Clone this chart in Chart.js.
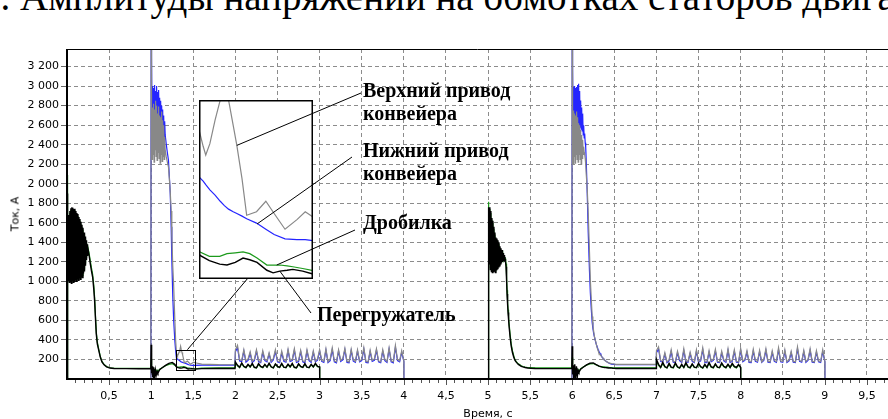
<!DOCTYPE html>
<html>
<head>
<meta charset="utf-8">
<script src="https://cdn.jsdelivr.net/npm/chart.js@4.4.1/dist/chart.umd.min.js"></script>
<style>
html, body { margin: 0; padding: 0; background: #fff; }
#wrap { position: relative; width: 888px; height: 419px; overflow: hidden; background: #fff; }
#main { position: absolute; left: 0; top: 0; }
#insetBox { position: absolute; left: 199px; top: 100px; width: 114px; height: 179px; background: #fff; }
#marks { position: absolute; left: 0; top: 0; pointer-events: none; }
.t { position: absolute; white-space: nowrap; color: #000; }
.title { left: -19px; top: -23px; font: 39px "Liberation Serif"; line-height: 39px; }
.lbl { font: bold 20px "Liberation Serif"; line-height: 23px; }
.ax { font: 11px "DejaVu Sans"; }
</style>
</head>
<body>
<div id="wrap">
  <div class="t title">7. Амплитуды напряжений на обмотках статоров двигателей</div>
  <canvas id="main" width="888" height="419"></canvas>
  <div id="insetBox"><canvas id="inset" width="114" height="179"></canvas></div>
  <canvas id="marks" width="888" height="419"></canvas>
  <div class="t lbl" style="left:363px;top:79px">Верхний привод<br>конвейера</div>
  <div class="t lbl" style="left:363px;top:139px">Нижний привод<br>конвейера</div>
  <div class="t lbl" style="left:363px;top:211px">Дробилка</div>
  <div class="t lbl" style="left:317px;top:303px">Перегружатель</div>
  <div class="t ax" style="left:15px;top:214px;transform:translate(-50%,-50%) rotate(-90deg)">Ток, А</div>
  <div class="t ax" style="left:488px;top:413px;transform:translate(-50%,-50%)">Время, с</div>
</div>
<script>
// two identical runs, the second one starts 5 s later
const runStart = [0, 5];

// tick labels
const timeTicks = [0.5, 1, 1.5, 2, 2.5, 3, 3.5, 4, 4.5, 5, 5.5, 6, 6.5, 7, 7.5, 8, 8.5, 9, 9.5];
const ampTicks = [200, 400, 600, 800, 1000, 1200, 1400, 1600, 1800, 2000, 2200, 2400, 2600, 2800, 3000, 3200];

// crusher (green) and loader (black): time from run start, s
const feedTime = [0, 0.004,
  0.010, 0.016, 0.022, 0.028, 0.034, 0.040, 0.046, 0.052, 0.058, 0.064,
  0.070, 0.076, 0.082, 0.088, 0.094, 0.100, 0.106, 0.112, 0.118, 0.124,
  0.130, 0.136, 0.142, 0.148, 0.154, 0.160, 0.166, 0.172, 0.178, 0.184,
  0.190, 0.196, 0.202, 0.208, 0.214, 0.220, 0.226, 0.232, 0.238, 0.244, 0.250,
  0.262, 0.275, 0.290, 0.305, 0.318, 0.328, 0.338, 0.348, 0.360, 0.378,
  0.395, 0.415, 0.440, 0.470, 0.510, 0.560, 0.700, 0.850, 0.995,
  1.000, 1.005, 1.010, 1.015, 1.020, 1.025, 1.030, 1.035, 1.040, 1.045,
  1.050, 1.060, 1.070, 1.080, 1.100, 1.130, 1.170, 1.210, 1.250, 1.280,
  1.302, 1.320, 1.340, 1.354, 1.370, 1.385, 1.398, 1.412, 1.431, 1.443,
  1.456, 1.470, 1.481, 1.500, 1.518,
  1.600, 1.800, 1.995,
  2.000, 2.025, 2.050, 2.075, 2.100, 2.125, 2.150, 2.175, 2.200, 2.225,
  2.250, 2.275, 2.300, 2.325, 2.350, 2.375, 2.400, 2.425, 2.450, 2.475,
  2.500, 2.525, 2.550, 2.575, 2.600, 2.625, 2.650, 2.675, 2.700, 2.725,
  2.750, 2.775, 2.800, 2.825, 2.850, 2.875, 2.900, 2.925, 2.950, 2.975, 3.000,
  3.001, 4.995];

// Перегружатель, A
const loaderRun1 = [0, 1900,
  1620, 1010, 1680, 990, 1720, 1000, 1750, 980, 1760, 1010,
  1755, 990, 1740, 1000, 1745, 1020, 1720, 1000, 1700, 1030,
  1690, 1010, 1660, 1040, 1640, 1020, 1610, 1050, 1580, 1040,
  1550, 1080, 1500, 1100, 1460, 1160, 1420, 1220, 1380, 1260, 1330,
  1270, 1190, 1110, 1040, 920, 800, 620, 460, 360, 290,
  225, 175, 145, 125, 112, 108, 106, 105, 105,
  350, 60, 130, 20, 110, 15, 120, 30, 100, 10,
  90, 40, 80, 60, 95, 115, 140, 160, 170, 150,
  122, 116, 112, 111, 114, 119, 117, 114, 105, 102,
  104, 105, 106, 104, 101,
  106, 107, 107,
  175, 140, 120, 165, 130, 118, 150, 125, 160, 120,
  115, 158, 128, 118, 150, 122, 162, 125, 115, 155,
  130, 120, 160, 122, 118, 152, 125, 160, 120, 115,
  155, 128, 120, 158, 122, 118, 150, 125, 160, 130, 125,
  0, 0];
const loaderRun2 = [0, 1760,
  1700, 1180, 1760, 1120, 1720, 1100, 1650, 1090, 1620, 1100,
  1560, 1110, 1500, 1090, 1450, 1120, 1440, 1130, 1420, 1150,
  1400, 1160, 1360, 1180, 1340, 1190, 1320, 1200, 1290, 1210,
  1270, 1220, 1230, 1200, 1150, 1020, 870, 770, 680, 610, 540,
  430, 340, 271, 225, 195, 180, 170, 160, 150, 140,
  130, 124, 118, 113, 110, 108, 106, 106, 106,
  336, 50, 140, 10, 120, 30, 150, 5, 110, 40,
  130, 20, 90, 70, 100, 120, 145, 162, 165, 150,
  140, 132, 126, 122, 119, 117, 116, 115, 113, 112,
  112, 111, 110, 109, 108,
  107, 107, 107,
  200, 150, 120, 170, 128, 115, 160, 122, 118, 165,
  125, 115, 150, 120, 168, 125, 116, 155, 122, 118,
  162, 128, 115, 150, 120, 170, 126, 116, 155, 122,
  118, 165, 130, 118, 152, 120, 160, 128, 118, 150, 120,
  0, 0];

// Дробилка, A
const crusherRun1 = [0, 2090,
  1600, 1030, 1660, 1010, 1700, 1020, 1730, 1000, 1740, 1030,
  1735, 1010, 1720, 1020, 1725, 1040, 1700, 1020, 1680, 1050,
  1670, 1030, 1640, 1060, 1620, 1040, 1590, 1070, 1560, 1060,
  1530, 1100, 1480, 1120, 1440, 1180, 1400, 1240, 1370, 1280, 1340,
  1290, 1220, 1140, 1070, 960, 840, 650, 480, 380, 300,
  235, 180, 150, 128, 115, 110, 108, 108, 108,
  200, 80, 120, 50, 110, 60, 105, 55, 100, 50,
  95, 70, 90, 80, 100, 115, 135, 150, 158, 140,
  126, 121, 121, 124, 125, 126, 124, 119, 111, 111,
  111, 110, 109, 107, 105,
  112, 114, 114,
  165, 135, 118, 158, 125, 115, 145, 122, 152, 118,
  112, 150, 125, 115, 146, 120, 155, 122, 112, 148,
  126, 118, 152, 120, 115, 146, 122, 152, 118, 112,
  150, 125, 118, 150, 120, 115, 146, 122, 152, 126, 122,
  0, 0];
const crusherRun2 = [0, 1815,
  1680, 1200, 1740, 1140, 1700, 1120, 1630, 1110, 1600, 1120,
  1540, 1130, 1480, 1110, 1430, 1140, 1420, 1150, 1400, 1170,
  1380, 1180, 1340, 1200, 1320, 1210, 1300, 1220, 1270, 1230,
  1250, 1240, 1240, 1220, 1180, 1060, 910, 800, 710, 640, 570,
  460, 360, 290, 240, 205, 188, 176, 165, 155, 145,
  135, 128, 122, 118, 116, 114, 113, 113, 113,
  220, 70, 130, 40, 115, 50, 125, 35, 105, 55,
  115, 45, 95, 80, 105, 122, 142, 155, 158, 146,
  138, 130, 127, 126, 125, 124, 123, 122, 120, 118,
  117, 116, 115, 114, 113,
  114, 114, 114,
  185, 140, 115, 160, 122, 112, 150, 118, 113, 155,
  120, 110, 142, 116, 158, 120, 112, 147, 118, 114,
  152, 122, 110, 142, 116, 160, 120, 112, 146, 118,
  114, 155, 124, 113, 145, 116, 150, 122, 113, 142, 116,
  0, 0];

// conveyor drives (grey upper, blue lower): time from run start, s
const convTime = [0, 0.995,
  1.000, 1.004,
  1.010, 1.016, 1.022, 1.028, 1.034, 1.040, 1.046, 1.052, 1.058, 1.064,
  1.070, 1.076, 1.082, 1.088, 1.094, 1.100, 1.106, 1.112, 1.118, 1.124,
  1.130, 1.136, 1.142, 1.148, 1.154, 1.160,
  1.166, 1.178, 1.190, 1.205, 1.215, 1.226, 1.237, 1.245, 1.256, 1.267, 1.280, 1.290,
  1.300, 1.308, 1.313, 1.321, 1.331, 1.341, 1.349, 1.357, 1.366, 1.373,
  1.383, 1.392, 1.411, 1.429, 1.445, 1.466, 1.489, 1.505, 1.520,
  1.600, 1.800, 1.995,
  2.000, 2.025, 2.050, 2.075, 2.100, 2.125, 2.150, 2.175, 2.200, 2.225,
  2.250, 2.275, 2.300, 2.325, 2.350, 2.375, 2.400, 2.425, 2.450, 2.475,
  2.500, 2.525, 2.550, 2.575, 2.600, 2.625, 2.650, 2.675, 2.700, 2.725,
  2.750, 2.775, 2.800, 2.825, 2.850, 2.875, 2.900, 2.925, 2.950, 2.975,
  3.000, 3.025, 3.050, 3.075, 3.100, 3.125, 3.150, 3.175, 3.200, 3.225,
  3.250, 3.275, 3.300, 3.325, 3.350, 3.375, 3.400, 3.425, 3.450, 3.475,
  3.500, 3.525, 3.550, 3.575, 3.600, 3.625, 3.650, 3.675, 3.700, 3.725,
  3.750, 3.775, 3.800, 3.825, 3.850, 3.875, 3.900, 3.925, 3.950, 3.975, 4.000,
  4.001, 4.995];

// Верхний привод конвейера, A
const upperRun1 = [0, 0,
  4000, 2600,
  2250, 2780, 2300, 2820, 2220, 2760, 2350, 2850, 2280, 2800,
  2240, 2720, 2320, 2790, 2260, 2700, 2210, 2680, 2300, 2740,
  2230, 2650, 2280, 2600, 2250, 2480,
  2350, 2280, 2230, 2170, 2060, 1920, 1720, 1460, 1160, 950, 620, 400,
  266, 247, 237, 250, 277, 300, 335, 300, 271, 248,
  210, 168, 172, 184, 170, 152, 163, 172, 166,
  152, 147, 146,
  300, 345, 200, 190, 300, 185, 205, 280, 180, 200,
  300, 190, 175, 290, 200, 185, 270, 180, 210, 300,
  185, 175, 285, 195, 180, 305, 190, 200, 310, 180,
  190, 295, 185, 175, 300, 200, 180, 290, 185, 205,
  300, 190, 180, 310, 175, 200, 320, 185, 175, 300,
  190, 210, 315, 180, 175, 305, 195, 180, 300, 185,
  200, 320, 180, 175, 295, 190, 205, 310, 185, 175,
  300, 200, 180, 320, 185, 175, 345, 200, 185, 290, 190,
  0, 0];
const upperRun2 = [0, 0,
  4000, 2550,
  2200, 2750, 2280, 2720, 2210, 2700, 2300, 2740, 2250, 2680,
  2220, 2620, 2300, 2600, 2250, 2550, 2200, 2500, 2260, 2450,
  2300, 2380, 2320, 2300, 2260, 2200,
  2100, 1950, 1700, 1300, 1020, 820, 640, 550, 480, 420, 380, 340,
  310, 290, 275, 262, 250, 240, 230, 222, 215, 205,
  195, 186, 175, 168, 162, 158, 155, 152, 150,
  150, 149, 149,
  290, 330, 190, 180, 270, 175, 195, 300, 180, 175,
  285, 200, 178, 310, 185, 180, 275, 190, 175, 300,
  180, 195, 320, 178, 175, 290, 185, 200, 305, 180,
  175, 285, 195, 180, 310, 176, 190, 300, 180, 175,
  315, 185, 200, 290, 178, 175, 305, 190, 180, 295,
  176, 200, 310, 180, 175, 290, 190, 178, 320, 185,
  180, 300, 176, 195, 285, 180, 175, 330, 190, 180,
  295, 178, 200, 310, 180, 175, 290, 185, 178, 300, 185,
  0, 0];

// Нижний привод конвейера, A
const lowerRun1 = [0, 0,
  4000, 3300,
  2600, 3000, 2550, 2980, 2620, 3010, 2580, 2950, 2650, 3000,
  2600, 2940, 2680, 2960, 2620, 2880, 2650, 2850, 2600, 2800,
  2550, 2760, 2500, 2700, 2480, 2640,
  2500, 2411, 2330, 2241, 2080, 1904, 1560, 1220, 850, 600, 400, 290,
  212, 207, 203, 197, 191, 184, 179, 175, 172, 170,
  167, 164, 159, 152, 146, 141, 140, 140, 139,
  142, 143, 143,
  280, 320, 185, 180, 285, 172, 190, 262, 170, 188,
  285, 178, 168, 272, 188, 176, 255, 172, 196, 282,
  176, 168, 268, 182, 172, 290, 180, 188, 295, 170,
  178, 280, 176, 166, 285, 188, 170, 275, 176, 192,
  285, 180, 170, 295, 168, 188, 300, 176, 166, 285,
  180, 195, 300, 170, 166, 290, 184, 172, 285, 176,
  188, 305, 170, 166, 280, 180, 192, 295, 176, 168,
  285, 188, 170, 305, 176, 166, 325, 188, 176, 275, 180,
  0, 0];
const lowerRun2 = [0, 0,
  4000, 3200,
  2700, 2990, 2650, 3000, 2620, 2980, 2600, 2990, 2640, 3010,
  2620, 3023, 2600, 2950, 2580, 2853, 2560, 2780, 2540, 2718,
  2500, 2600, 2470, 2513, 2420, 2377,
  2241, 1904, 1500, 1100, 883, 720, 580, 520, 460, 420, 373, 345,
  320, 300, 290, 275, 260, 245, 232, 222, 212, 205,
  195, 188, 176, 166, 158, 152, 150, 149, 148,
  147, 147, 147,
  270, 305, 180, 172, 255, 168, 185, 280, 172, 168,
  268, 188, 170, 290, 176, 172, 260, 180, 168, 282,
  172, 185, 300, 170, 168, 272, 176, 190, 285, 172,
  168, 268, 185, 172, 290, 170, 180, 282, 172, 168,
  295, 176, 190, 272, 170, 168, 285, 180, 172, 278,
  170, 190, 290, 172, 168, 272, 180, 170, 300, 176,
  172, 282, 170, 185, 268, 172, 168, 310, 180, 172,
  278, 170, 190, 290, 172, 168, 272, 176, 170, 282, 176,
  0, 0];

// axis limits and the zoomed window shown in the inset
const xMax = 9.75, yMax = 3380;
const zoomT = [1.30, 1.52], zoomA = [95, 300];

function run(time, values, start) {
  return time.map((t, i) => ({ x: +(t + start).toFixed(3), y: values[i] }));
}
function both(time, r1, r2) {
  return run(time, r1, runStart[0]).concat(run(time, r2, runStart[1]));
}

function makeSets(firstOnly) {
  const pick = (time, r1, r2) => firstOnly ? run(time, r1, runStart[0]) : both(time, r1, r2);
  return [
    { label: 'Перегружатель', data: pick(feedTime, loaderRun1, loaderRun2), borderColor: '#000000', borderWidth: 1.4 },
    { label: 'Дробилка', data: pick(feedTime, crusherRun1, crusherRun2), borderColor: '#1c9a1c', borderWidth: 1.2 },
    { label: 'Верхний привод конвейера', data: pick(convTime, upperRun1, upperRun2), borderColor: '#888888', borderWidth: 1.2 },
    { label: 'Нижний привод конвейера', data: pick(convTime, lowerRun1, lowerRun2), borderColor: '#2424ff', borderWidth: 1.2 }
  ].map(d => Object.assign(d, { showLine: true, pointRadius: 0, fill: false, tension: 0 }));
}

const tickFont = { family: 'DejaVu Sans', size: 11 };
const ampLabel = v => v >= 1000 ? Math.floor(v / 1000) + ' ' + String(v % 1000).padStart(3, '0') : String(v);

// inset with the zoomed window
const insetBorder = {
  id: 'insetBorder',
  afterDraw(c) {
    const ctx = c.ctx;
    ctx.save();
    ctx.strokeStyle = '#000';
    ctx.lineWidth = 1.5;
    ctx.strokeRect(0.75, 0.75, c.width - 1.5, c.height - 1.5);
    ctx.restore();
  }
};
const insetChart = new Chart(document.getElementById('inset'), {
  type: 'scatter',
  data: { datasets: makeSets(true) },
  options: {
    responsive: false, animation: false, devicePixelRatio: 1,
    layout: { padding: 0 },
    plugins: { legend: { display: false }, tooltip: { enabled: false } },
    scales: {
      x: { type: 'linear', min: zoomT[0], max: zoomT[1], display: false },
      y: { min: zoomA[0], max: zoomA[1], display: false }
    }
  },
  plugins: [insetBorder]
});

const insetLeft = 199, insetTop = 100;

const frame = {
  id: 'frame',
  afterDraw(c) {
    const { ctx, chartArea: a, scales: { x, y } } = c;
    ctx.save();
    // minor and major ticks under the time axis
    ctx.strokeStyle = '#555';
    ctx.lineWidth = 1;
    for (let k = 1; k <= 97; k++) {
      const px = Math.round(x.getPixelForValue(k / 10)) + 0.5;
      ctx.beginPath();
      ctx.moveTo(px, a.bottom);
      ctx.lineTo(px, a.bottom + (k % 5 === 0 ? 6 : 4));
      ctx.stroke();
    }
    // axes
    ctx.strokeStyle = '#000';
    ctx.lineWidth = 1;
    ctx.beginPath();
    ctx.moveTo(a.left, a.top + 0.5);
    ctx.lineTo(a.right, a.top + 0.5);
    ctx.stroke();
    ctx.lineWidth = 2;
    ctx.beginPath();
    ctx.moveTo(a.left, a.top);
    ctx.lineTo(a.left, a.bottom);
    ctx.lineTo(a.right, a.bottom);
    ctx.stroke();
    // window that the inset magnifies
    const x0 = x.getPixelForValue(zoomT[0]), x1 = x.getPixelForValue(zoomT[1]);
    const y0 = y.getPixelForValue(zoomA[1]), y1 = y.getPixelForValue(zoomA[0]);
    ctx.lineWidth = 1;
    ctx.strokeRect(Math.round(x0) + 0.5, Math.round(y0) + 0.5, Math.round(x1 - x0), Math.round(y1 - y0));
    ctx.beginPath();
    ctx.moveTo(x.getPixelForValue(1.43), y0);
    ctx.lineTo(insetLeft + insetChart.scales.x.getPixelForValue(1.393), insetTop + insetChart.height);
    ctx.stroke();
    ctx.restore();
  }
};

new Chart(document.getElementById('main'), {
  type: 'scatter',
  data: { datasets: makeSets(false) },
  options: {
    responsive: false, animation: false, devicePixelRatio: 1,
    layout: { padding: { top: 49, right: 0, bottom: 0, left: 0 } },
    plugins: { legend: { display: false }, tooltip: { enabled: false } },
    scales: {
      x: {
        type: 'linear', min: 0, max: xMax,
        afterFit(s) { s.height = 40; },
        afterBuildTicks(s) { s.ticks = timeTicks.map(value => ({ value })); },
        ticks: {
          autoSkip: false, maxRotation: 0,
          padding: 11, color: '#000', font: tickFont,
          callback: v => String(v).replace('.', ',')
        },
        grid: { color: '#8c8c8c', lineWidth: 1, drawTicks: false },
        border: { display: false, dash: [4, 3] }
      },
      y: {
        min: 0, max: yMax,
        afterFit(s) { s.width = 67; },
        afterBuildTicks(s) { s.ticks = ampTicks.map(value => ({ value })); },
        ticks: { autoSkip: false, padding: 2, color: '#000', font: tickFont, callback: ampLabel },
        grid: { color: '#8c8c8c', lineWidth: 1, tickLength: 6, tickColor: '#666', tickBorderDash: [] },
        border: { display: false, dash: [4, 3] }
      }
    }
  },
  plugins: [frame]
});

// pointers from the captions to the curves in the inset
const pointers = [
  { from: [361, 93], to: [1.373, 248] },
  { from: [352, 157], to: [1.412, 158] },
  { from: [355, 230], to: [1.450, 111] },
  { from: [311, 313], to: [1.456, 104] }
];
const mctx = document.getElementById('marks').getContext('2d');
mctx.strokeStyle = '#000';
mctx.lineWidth = 1;
for (const p of pointers) {
  mctx.beginPath();
  mctx.moveTo(p.from[0], p.from[1]);
  mctx.lineTo(insetLeft + insetChart.scales.x.getPixelForValue(p.to[0]),
              insetTop + insetChart.scales.y.getPixelForValue(p.to[1]));
  mctx.stroke();
}
</script>
</body>
</html>
